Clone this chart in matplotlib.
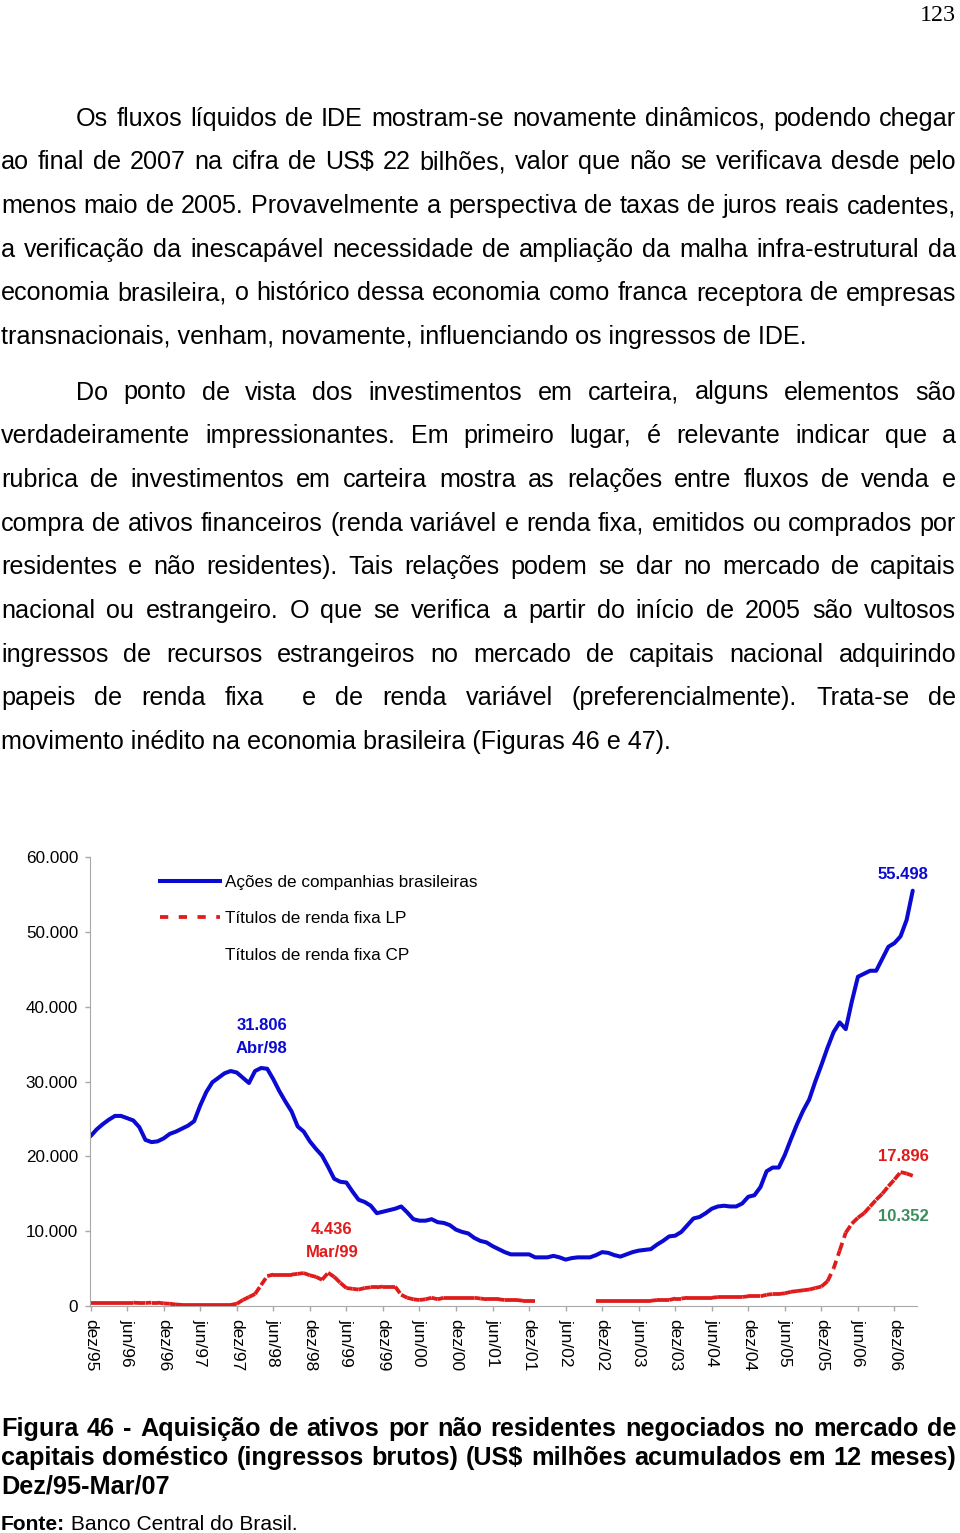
import numpy as np
import matplotlib
matplotlib.use('Agg')
import matplotlib.pyplot as plt
from matplotlib.collections import LineCollection
from matplotlib.lines import Line2D
from matplotlib import font_manager

W, H = 960, 1533

page_number = "123"
paragraph_1 = [
    "Os fluxos líquidos de IDE mostram-se novamente dinâmicos, podendo chegar",
    "ao final de 2007 na cifra de US$ 22 bilhões, valor que não se verificava desde pelo",
    "menos maio de 2005. Provavelmente a perspectiva de taxas de juros reais cadentes,",
    "a verificação da inescapável necessidade de ampliação da malha infra-estrutural da",
    "economia brasileira, o histórico dessa economia como franca receptora de empresas",
    "transnacionais, venham, novamente, influenciando os ingressos de IDE.",
]
paragraph_2 = [
    "Do ponto de vista dos investimentos em carteira, alguns elementos são",
    "verdadeiramente impressionantes. Em primeiro lugar, é relevante indicar que a",
    "rubrica de investimentos em carteira mostra as relações entre fluxos de venda e",
    "compra de ativos financeiros (renda variável e renda fixa, emitidos ou comprados por",
    "residentes e não residentes). Tais relações podem se dar no mercado de capitais",
    "nacional ou estrangeiro. O que se verifica a partir do início de 2005 são vultosos",
    "ingressos de recursos estrangeiros no mercado de capitais nacional adquirindo",
    "papeis de renda fixa  e de renda variável (preferencialmente). Trata-se de",
    "movimento inédito na economia brasileira (Figuras 46 e 47).",
]
caption_lines = [
    "Figura 46 - Aquisição de ativos por não residentes negociados no mercado de",
    "capitais doméstico (ingressos brutos) (US$ milhões acumulados em 12 meses)",
    "Dez/95-Mar/07",
]
source_label = "Fonte:"
source_text = " Banco Central do Brasil."

series_names = ["Ações de companhias brasileiras", "Títulos de renda fixa LP",
                "Títulos de renda fixa CP"]
tick_labels = ["dez/95", "jun/96", "dez/96", "jun/97", "dez/97", "jun/98", "dez/98",
               "jun/99", "dez/99", "jun/00", "dez/00", "jun/01", "dez/01", "jun/02",
               "dez/02", "jun/03", "dez/03", "jun/04", "dez/04", "jun/05", "dez/05",
               "jun/06", "dez/06"]

# US$ bilhoes, monthly dez/95 .. mar/07
acoes = np.array([
    22.7, 23.6, 24.3, 24.9, 25.4, 25.4, 25.1, 24.8, 23.9, 22.2, 21.9, 22.0,
    22.4, 23.0, 23.3, 23.7, 24.1, 24.7, 26.8, 28.6, 29.9, 30.5, 31.1, 31.4,
    31.2, 30.5, 29.8, 31.4, 31.806, 31.7, 30.3, 28.7, 27.3, 26.0, 24.0, 23.3,
    22.0, 21.0, 20.1, 18.6, 17.0, 16.6, 16.5, 15.3, 14.2, 13.9, 13.4, 12.4,
    12.6, 12.8, 13.0, 13.3, 12.5, 11.6, 11.4, 11.4, 11.6, 11.2, 11.1, 10.8,
    10.2, 9.9, 9.7, 9.1, 8.7, 8.5, 8.0, 7.6, 7.2, 6.9, 6.9, 6.9,
    6.9, 6.5, 6.5, 6.5, 6.7, 6.5, 6.2, 6.4, 6.5, 6.5, 6.5, 6.8,
    7.2, 7.1, 6.8, 6.6, 6.9, 7.2, 7.4, 7.5, 7.6, 8.2, 8.7, 9.3,
    9.4, 9.9, 10.8, 11.7, 11.9, 12.4, 13.0, 13.3, 13.4, 13.3, 13.3, 13.7,
    14.6, 14.8, 15.9, 18.0, 18.5, 18.5, 20.2, 22.3, 24.3, 26.1, 27.6, 30.0,
    32.2, 34.5, 36.6, 37.9, 37.0, 40.7, 44.0, 44.4, 44.8, 44.8, 46.4, 48.0,
    48.5, 49.4, 51.6, 55.498]) * 1000
nan = np.nan
renda_fixa_lp = np.array([
    0.45, 0.45, 0.45, 0.45, 0.45, 0.45, 0.45, 0.45, 0.4, 0.4, 0.45, 0.45,
    0.35, 0.3, 0.2, 0.15, 0.15, 0.15, 0.15, 0.15, 0.15, 0.15, 0.15, 0.15,
    0.3, 0.8, 1.2, 1.6, 2.8, 4.0, 4.2, 4.2, 4.2, 4.2, 4.3, 4.4,
    4.1, 3.9, 3.5, 4.436, 3.9, 3.1, 2.4, 2.3, 2.2, 2.4, 2.5, 2.5,
    2.6, 2.6, 2.6, 1.5, 1.1, 0.9, 0.8, 0.9, 1.1, 0.9, 1.1, 1.1,
    1.1, 1.1, 1.1, 1.1, 1.0, 0.9, 0.9, 0.9, 0.8, 0.8, 0.8, 0.7,
    0.7, 0.7, nan, nan, nan, nan, nan, nan, nan, nan, nan, 0.7,
    0.7, 0.7, 0.7, 0.7, 0.7, 0.7, 0.7, 0.7, 0.7, 0.8, 0.8, 0.8,
    1.0, 1.0, 1.1, 1.1, 1.1, 1.1, 1.1, 1.2, 1.2, 1.2, 1.2, 1.2,
    1.3, 1.3, 1.3, 1.5, 1.6, 1.6, 1.7, 1.9, 2.0, 2.1, 2.2, 2.4,
    2.6, 3.3, 5.0, 7.4, 9.8, 11.0, 11.8, 12.4, 13.3, 14.2, 15.0, 16.0,
    16.9, 17.896, 17.7, 17.4]) * 1000
renda_fixa_cp_last = 10352

BLUE = '#0a0ad2'
RED = '#e01b1b'
GREEN = '#3b8d5c'
GRAY = '#a8a8a8'

names = {f.name for f in font_manager.fontManager.ttflist}
SANS = 'Liberation Sans'
NARROW = 'Liberation Sans Narrow' if 'Liberation Sans Narrow' in names else 'Liberation Sans'
SERIF = 'Liberation Serif'

fig = plt.figure(figsize=(W / 100, H / 100), dpi=100)
fig.patch.set_facecolor('white')
r = fig.canvas.get_renderer()


def fy(py):
    return 1 - py / H


def width_of(s, size, weight='normal', family=SANS):
    t = fig.text(0, 0, s, fontsize=size, fontweight=weight, family=family)
    w = t.get_window_extent(r).width
    t.remove()
    return w


def write_line(s, py, x0, x1, size, weight='normal', family=SANS, justify=True):
    kw = dict(fontsize=size, fontweight=weight, family=family, va='baseline')
    if not justify:
        fig.text(x0 / W, fy(py), s, **kw)
        return
    words = s.split(' ')
    arts = [fig.text(0, fy(py), w, **kw) for w in words]
    widths = [a.get_window_extent(r).width if w else 0 for a, w in zip(arts, words)]
    gap = (x1 - x0 - sum(widths)) / (len(words) - 1)
    x = x0
    for a, w in zip(arts, widths):
        a.set_x(x / W)
        x += w + gap


# page number
num_size = 10 * 36 / width_of(page_number, 10, family=SERIF)
fig.text(956 / W, fy(21), page_number, fontsize=num_size, family=SERIF,
         ha='right', va='baseline')

# body text
body_size = 10 * 673 / width_of(paragraph_2[-1], 10)
for k, line in enumerate(paragraph_1):
    write_line(line, 125.7 + 43.7 * k, 76 if k == 0 else 1, 956, body_size,
               justify=k < len(paragraph_1) - 1)
for k, line in enumerate(paragraph_2):
    write_line(line, 399.5 + 43.7 * k, 76 if k == 0 else 1, 956, body_size,
               justify=k < len(paragraph_2) - 1)

# caption
cap_size = 10 * 168 / width_of(caption_lines[2], 10, 'bold', NARROW)
for k, line in enumerate(caption_lines):
    write_line(line, 1436 + 29 * k, 1, 956, cap_size, 'bold', NARROW, justify=k < 2)
src_size = 10 * 298 / (width_of(source_label, 10, 'bold', NARROW)
                       + width_of(source_text, 10, 'normal', NARROW))
t = fig.text(1 / W, fy(1530), source_label, fontsize=src_size, fontweight='bold',
             family=NARROW, va='baseline')
lw_src = t.get_window_extent(r).width
fig.text((1 + lw_src) / W, fy(1530), source_text, fontsize=src_size, family=NARROW,
         va='baseline')

# chart
ax = fig.add_axes([90 / W, fy(1306), 827 / W, 449 / H])
x = np.arange(len(acoes))
ax.plot(x, acoes, color=BLUE, lw=2.9, solid_joinstyle='round', solid_capstyle='round')

pts = np.column_stack([x, renda_fixa_lp])
segs = [pts[i:i + 2] for i in range(len(pts) - 1) if not np.isnan(pts[i:i + 2]).any()]
lc = LineCollection(segs, colors=RED, linewidths=2.7, linestyles=[(0, (2.2, 1.4))],
                    capstyle='butt')
ax.add_collection(lc)

ax.set_xlim(-0.1, 135.7)
ax.set_ylim(0, 60000)
ax.set_xticks(np.arange(0, 6 * len(tick_labels), 6))
ax.set_xticklabels(tick_labels, rotation=-90, fontsize=12.5, family=SANS)
yt = np.arange(0, 60001, 10000)
ax.set_yticks(yt)
ax.set_yticklabels([f"{v:,}".replace(',', '.') for v in yt], fontsize=12.3, family=SANS)
ax.tick_params(length=3.6, width=1, color=GRAY, pad=5)
ax.tick_params(axis='x', pad=6)
for s in ['top', 'right']:
    ax.spines[s].set_visible(False)
for s in ['left', 'bottom']:
    ax.spines[s].set_color(GRAY)
ax.patch.set_alpha(0)

handles = [Line2D([], [], color=BLUE, lw=2.9),
           Line2D([], [], color=RED, lw=2.7, dashes=(2.2, 2.8)),
           Line2D([], [], color=GREEN, ls='none')]
ax.legend(handles, series_names, loc='upper left', bbox_to_anchor=(160 / W, fy(875)),
          bbox_transform=fig.transFigure, frameon=False, prop={'family': SANS, 'size': 12.3},
          handlelength=3.5, handletextpad=0.3, labelspacing=1.25, borderpad=0,
          borderaxespad=0)


def fmt(v):
    return f"{v:,.0f}".replace(',', '.')


bold = dict(fontsize=12, fontweight='bold', family=SANS, ha='center', va='center',
            linespacing=1.65)
ipk = int(np.argmax(acoes[:60]))
ax.text(ipk + 0.1, 35900, fmt(acoes[ipk]) + "\n" + "Abr/98", color=BLUE, **bold)
ax.text(len(acoes) - 2.6, 57600, fmt(acoes[-1]), color=BLUE, **bold)
ilp = int(np.nanargmax(renda_fixa_lp[:60]))
ax.text(ilp + 0.6, 8650, fmt(renda_fixa_lp[ilp]) + "\n" + "Mar/99", color=RED, **bold)
ax.text(len(acoes) - 2.6, 20000, fmt(np.nanmax(renda_fixa_lp)), color=RED, **bold)
ax.text(len(acoes) - 2.6, 12000, fmt(renda_fixa_cp_last), color=GREEN, **bold)

fig.savefig('out.png', dpi=100, facecolor='white')
